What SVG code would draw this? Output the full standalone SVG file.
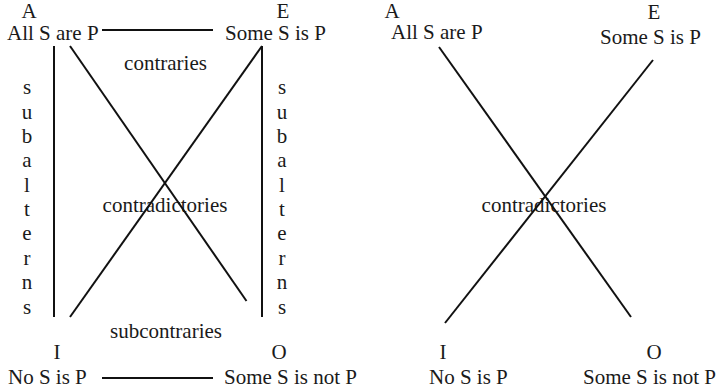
<svg xmlns="http://www.w3.org/2000/svg" width="717" height="390" viewBox="0 0 717 390">
<style>
text{font-family:"Liberation Serif","Times New Roman",serif;font-size:21px;fill:#1a1a1a}
.m{text-anchor:middle}
line{stroke:#111;stroke-width:2}
</style>
<rect width="717" height="390" fill="#fff"/>
<g id="left-A"><text x="29" y="18" class="m">A</text><text x="7" y="40">All S are P</text></g>
<g id="left-E"><text x="283" y="18" class="m">E</text><text x="225" y="40">Some S is P</text></g>
<g id="left-I"><text x="57" y="359" class="m">I</text><text x="8" y="384">No S is P</text></g>
<g id="left-O"><text x="279" y="359" class="m">O</text><text x="224" y="384">Some S is not P</text></g>
<g id="left-labels">
<text x="165.5" y="70" class="m">contraries</text>
<text x="165" y="212" class="m">contradictories</text>
<text x="166" y="338" class="m">subcontraries</text>
<text x="27" y="94" class="m">s</text><text x="27" y="118.5" class="m">u</text><text x="27" y="143" class="m">b</text><text x="27" y="167" class="m">a</text><text x="27" y="191.5" class="m">l</text><text x="27" y="216" class="m">t</text><text x="27" y="240" class="m">e</text><text x="27" y="264.5" class="m">r</text><text x="27" y="289" class="m">n</text><text x="27" y="314" class="m">s</text>
<text x="282" y="94" class="m">s</text><text x="282" y="118.5" class="m">u</text><text x="282" y="143" class="m">b</text><text x="282" y="167" class="m">a</text><text x="282" y="191.5" class="m">l</text><text x="282" y="216" class="m">t</text><text x="282" y="240" class="m">e</text><text x="282" y="264.5" class="m">r</text><text x="282" y="289" class="m">n</text><text x="282" y="314" class="m">s</text>
</g>
<g id="right-A"><text x="392" y="18" class="m">A</text><text x="391" y="39">All S are P</text></g>
<g id="right-E"><text x="654" y="19" class="m">E</text><text x="600" y="43.5">Some S is P</text></g>
<g id="right-I"><text x="443" y="359" class="m">I</text><text x="429" y="384">No S is P</text></g>
<g id="right-O"><text x="654" y="359" class="m">O</text><text x="583" y="384">Some S is not P</text></g>
<g id="right-labels"><text x="544" y="212" class="m">contradictories</text></g>
<g id="connectors">
<line x1="102" y1="30" x2="213" y2="30"/>
<line x1="102" y1="378" x2="213" y2="378"/>
<line x1="54" y1="46" x2="54" y2="317"/>
<line x1="262" y1="46" x2="262" y2="317"/>
<line x1="70" y1="46" x2="246.5" y2="301"/>
<line x1="262" y1="46" x2="70" y2="317"/>
<line x1="439" y1="47" x2="631" y2="317"/>
<line x1="653" y1="60" x2="445" y2="323"/>
</g>
</svg>
